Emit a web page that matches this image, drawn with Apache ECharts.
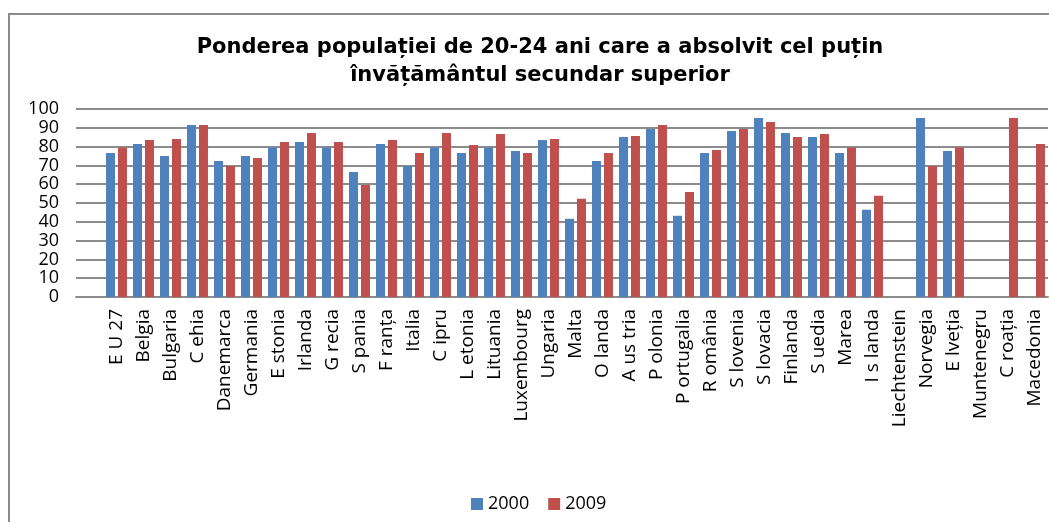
<!DOCTYPE html>
<html style="height: 100%">
  <head>
    <meta charset="UTF-8">
    <meta name="viewport" content="width=device-width, initial-scale=1.0">
  </head>

  <body style="height: 100%; margin: 0; background: #fff">
    <div id="container" style="height: 100%"></div>
    <script type="text/javascript" src="https://fastly.jsdelivr.net/npm/echarts@6.0.0/dist/echarts.min.js"></script>
    <script>
    var dom = document.getElementById('container');
    var myChart = echarts.init(dom, null, {
      renderer: 'canvas',
      useDirtyRect: false
    });

    // first slot is left empty, like in the original sheet
    var countries = ['', 'E U 27', 'Belgia', 'Bulgaria', 'C ehia', 'Danemarca', 'Germania', 'E stonia',
      'Irlanda', 'G recia', 'S pania', 'F ranța', 'Italia', 'C ipru', 'L etonia', 'Lituania',
      'Luxembourg', 'Ungaria', 'Malta', 'O landa', 'A us tria', 'P olonia', 'P ortugalia',
      'R omânia', 'S lovenia', 'S lovacia', 'Finlanda', 'S uedia', 'Marea', 'I s landa',
      'Liechtenstein', 'Norvegia', 'E lveția', 'Muntenegru', 'C roația', 'Macedonia'];
    var values2000 = [null, 76.6, 81.4, 75.0, 91.5, 72.4, 75.0, 79.5, 82.5, 79.5, 66.5, 81.4,
      69.7, 79.5, 76.6, 79.5, 77.7, 83.5, 41.6, 72.4, 85.1, 89.4, 43.2, 76.6, 88.3, 95.2,
      87.3, 85.1, 76.6, 46.4, null, 95.2, 77.7, null, null, null];
    var values2009 = [null, 79.5, 83.5, 84.1, 91.5, 69.7, 74.0, 82.5, 87.3, 82.5, 59.6, 83.5,
      76.6, 87.3, 80.9, 86.7, 76.6, 84.1, 52.2, 76.6, 85.7, 91.5, 55.9, 78.2, 89.4, 93.1,
      85.1, 86.7, 79.5, 53.8, null, 69.7, 79.5, null, 95.2, 81.4];
    var yTicks = [0, 10, 20, 30, 40, 50, 60, 70, 80, 90, 100];

    var labelFont = '"Open Sans", "DejaVu Sans", sans-serif';

    var option = {
      backgroundColor: '#fff',
      animation: false,
      title: {
        text: 'Ponderea populației de 20-24 ani care a absolvit cel puțin\nînvățământul secundar superior',
        left: 535,
        top: 29,
        textAlign: 'center',
        textStyle: {
          fontFamily: '"DejaVu Sans", sans-serif',
          fontWeight: 'bold',
          fontSize: 21,
          lineHeight: 28,
          color: '#000'
        }
      },
      legend: {
        data: ['2000', '2009'],
        left: 466,
        top: 490,
        itemWidth: 12,
        itemHeight: 12,
        itemGap: 19,
        icon: 'rect',
        textStyle: { fontFamily: labelFont, fontSize: 18, color: '#000' }
      },
      graphic: [{
        type: 'rect',
        shape: { x: 9, y: 14, width: 1100, height: 600 },
        style: { fill: 'none', stroke: '#8a8a8a', lineWidth: 2 },
        silent: true
      }],
      grid: {
        left: 76,
        right: 1,
        top: 109,
        bottom: 225,
        containLabel: false
      },
      xAxis: {
        type: 'category',
        data: countries,
        axisLine: { lineStyle: { color: '#8c8c8c', width: 2 } },
        axisTick: { show: false },
        axisLabel: {
          rotate: 90,
          interval: 0,
          margin: 12,
          fontFamily: labelFont,
          fontSize: 19,
          color: '#000'
        }
      },
      yAxis: {
        type: 'value',
        min: yTicks[0],
        max: yTicks[yTicks.length - 1],
        interval: 10,
        axisLine: { show: false },
        axisTick: { show: false },
        axisLabel: {
          margin: 17,
          showMinLabel: true,
          showMaxLabel: true,
          hideOverlap: false,
          fontFamily: labelFont,
          fontSize: 18,
          lineHeight: 18,
          color: '#000'
        },
        splitLine: { lineStyle: { color: '#8c8c8c', width: 2 } }
      },
      series: [
        {
          name: '2000',
          type: 'bar',
          barWidth: 9,
          barGap: '33%',
          itemStyle: { color: '#4F81BD' },
          data: values2000
        },
        {
          name: '2009',
          type: 'bar',
          barWidth: 9,
          barGap: '33%',
          itemStyle: { color: '#C0504D' },
          data: values2009
        }
      ]
    };

    if (option && typeof option === 'object') {
      myChart.setOption(option);
    }

    window.addEventListener('resize', myChart.resize);
    </script>
  </body>
</html>
